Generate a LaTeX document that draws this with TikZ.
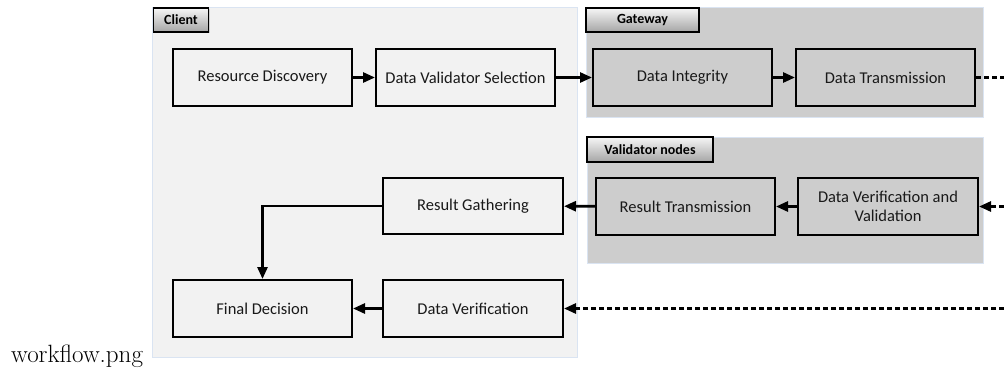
\documentclass[tikz,border=0pt]{standalone}
\usepackage{fontspec}
\newfontfamily\calfont{Carlito}
\usetikzlibrary{arrows.meta,shadows}
\definecolor{clientbg}{RGB}{242,242,242}
\definecolor{panelbd}{RGB}{218,228,242}
\definecolor{graybg}{RGB}{205,205,205}
\definecolor{tabtop}{RGB}{246,246,246}
\definecolor{tabbot}{RGB}{165,165,165}
\definecolor{txt}{RGB}{25,25,25}
\tikzset{
  panel/.style={draw=panelbd, line width=0.8pt},
  tab/.style={draw=black, line width=1.6pt, top color=tabtop, bottom color=tabbot,
    font=\calfont\bfseries\fontsize{14}{15}\selectfont, inner sep=0pt,
    drop shadow={shadow xshift=1pt, shadow yshift=-1pt, opacity=0.3}},
  box/.style={draw=black, line width=2pt, minimum width=179pt, minimum height=57pt,
    inner sep=0pt, align=center, text=txt, font=\calfont\fontsize{16.5}{19.5}\selectfont},
  cbox/.style={box, fill=clientbg},
  gbox/.style={box, fill=graybg},
  flow/.style={line width=2.7pt, -{Triangle[length=12pt,width=10pt]}},
  dflow/.style={flow, dash pattern=on 5pt off 3pt},
}
\begin{document}
\begin{tikzpicture}[x=1pt,y=-1pt]
\useasboundingbox (0,0) rectangle (1004,370);
% panels
\fill[clientbg] (152,7) rectangle (577,357);
\draw[panel] (152,7) rectangle (577,357);
\fill[graybg] (586,7) rectangle (983,117);
\draw[panel] (586,7) rectangle (983,117);
\fill[graybg] (587,137) rectangle (983,263);
\draw[panel] (587,137) rectangle (983,263);
% tabs
\node[tab, minimum width=55pt, minimum height=24pt] (tclient) at (181,20) {Client};
\node[tab, minimum width=113pt, minimum height=24pt] (tgate) at (642.5,20) {Gateway};
\node[tab, minimum width=126pt, minimum height=25pt] (tval) at (650,149.5) {Validator nodes};
% boxes
\node[cbox] (rd) at (262.5,77.5) {Resource Discovery};
\node[cbox] (dvs) at (465.5,77.5) {Data Validator Selection};
\node[gbox] (di) at (682.5,77.5) {Data Integrity};
\node[gbox] (dt) at (885.5,77.5) {Data Transmission};
\node[gbox] (rt) at (685.5,206.5) {Result Transmission};
\node[gbox, minimum width=180pt] (dvv) at (888,206.5) {Data Verification and\\[-1pt]Validation};
\node[cbox, minimum width=180pt, minimum height=56pt] (rg) at (473,206) {Result Gathering};
\node[cbox] (fd) at (262.5,308.5) {Final Decision};
\node[cbox, minimum width=180pt] (dv) at (473,308.5) {Data Verification};
% free ends
\coordinate (e1) at (1004,77.5);
\coordinate (e2) at (1004,206.5);
\coordinate (e3) at (1004,308.5);
% connectors
\draw[flow] (rd) -- (dvs);
\draw[flow] (dvs) -- (di);
\draw[flow] (di) -- (dt);
\draw[line width=2.7pt, dash pattern=on 5pt off 3pt] (dt) -- (e1);
\draw[dflow] (e2) -- (dvv);
\draw[flow] (dvv) -- (rt);
\draw[flow] (rt) -- (rg);
\draw[flow] (rg.west) -| (fd.north);
\draw[flow] (dv) -- (fd);
\draw[dflow] (e3) -- (dv);
% caption
\node[anchor=base west, inner sep=0pt, font=\fontsize{25}{28}\selectfont] (cap) at (11,362) {workflow.png};
\end{tikzpicture}
\end{document}
